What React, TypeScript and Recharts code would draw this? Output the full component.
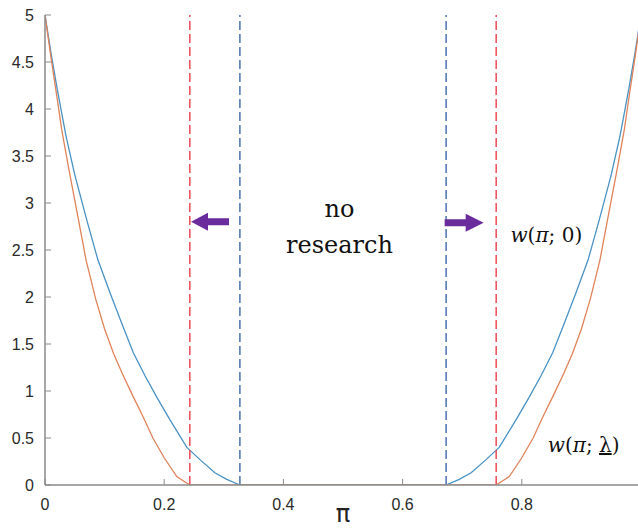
import React from 'react';
import {
  LineChart, Line, XAxis, YAxis, ReferenceLine, ReferenceDot,
} from 'recharts';

// w(pi; 0) - blue curve
const blueX = [0, 0.01, 0.02, 0.035, 0.05, 0.07, 0.089, 0.11, 0.13, 0.148, 0.168, 0.188, 0.21, 0.238, 0.26, 0.285, 0.305, 0.327,
  0.673, 0.695, 0.715, 0.74, 0.762, 0.79, 0.812, 0.832, 0.852, 0.87, 0.89, 0.911, 0.93, 0.95, 0.965, 0.98, 0.99, 1];
const blueY = [5, 4.6, 4.23, 3.72, 3.3, 2.82, 2.39, 2.03, 1.7, 1.41, 1.16, 0.93, 0.69, 0.4, 0.27, 0.13, 0.06, 0,
  0, 0.06, 0.13, 0.27, 0.4, 0.69, 0.93, 1.16, 1.41, 1.7, 2.03, 2.39, 2.82, 3.3, 3.72, 4.23, 4.6, 5];

// w(pi; lambda) - orange curve
const orangeX = [0, 0.01, 0.02, 0.028, 0.04, 0.055, 0.069, 0.085, 0.1, 0.115, 0.13, 0.148, 0.165, 0.181, 0.2, 0.221, 0.243,
  0.757, 0.779, 0.8, 0.819, 0.835, 0.852, 0.87, 0.885, 0.9, 0.915, 0.931, 0.945, 0.96, 0.972, 0.98, 0.99, 1];
const orangeY = [5, 4.55, 4.13, 3.78, 3.36, 2.86, 2.39, 1.98, 1.66, 1.4, 1.18, 0.94, 0.72, 0.5, 0.29, 0.09, 0,
  0, 0.09, 0.29, 0.5, 0.72, 0.94, 1.18, 1.4, 1.66, 1.98, 2.39, 2.86, 3.36, 3.78, 4.13, 4.55, 5];

const redCuts = [0.243, 0.757];
const blueCuts = [0.327, 0.673];

const xTicks = [0, 0.2, 0.4, 0.6, 0.8];
const yTicks = [0, 0.5, 1, 1.5, 2, 2.5, 3, 3.5, 4, 4.5, 5];

const blueData = blueX.map((x, i) => ({ x, y: blueY[i] }));
const orangeData = orangeX.map((x, i) => ({ x, y: orangeY[i] }));

const AXIS = '#8a8a8a';
const PURPLE = '#6a2c9c';
const SERIF = '"DejaVu Serif", "Liberation Serif", serif';

const LeftArrow = ({ cx, cy }: any) => (
  <path
    d={`M${cx},${cy} L${cx + 17},${cy - 9} L${cx + 17},${cy - 3.5} L${cx + 38},${cy - 3.5} L${cx + 38},${cy + 3.5} L${cx + 17},${cy + 3.5} L${cx + 17},${cy + 9} Z`}
    fill={PURPLE}
  />
);

const RightArrow = ({ cx, cy }: any) => (
  <path
    d={`M${cx},${cy} L${cx - 18},${cy - 9} L${cx - 18},${cy - 3.5} L${cx - 39},${cy - 3.5} L${cx - 39},${cy + 3.5} L${cx - 18},${cy + 3.5} L${cx - 18},${cy + 9} Z`}
    fill={PURPLE}
  />
);

const NoResearch = ({ cx, cy }: any) => (
  <text x={cx} y={cy} textAnchor="middle" fontFamily={SERIF} fontSize={24} fill="#111">
    <tspan x={cx} dy={0}>no</tspan>
    <tspan x={cx} dy={36}>research</tspan>
  </text>
);

const WZero = ({ cx, cy }: any) => (
  <text x={cx} y={cy} fontFamily={SERIF} fontSize={20} fill="#111">
    <tspan fontStyle="italic">w</tspan>(<tspan fontStyle="italic">π</tspan>; 0)
  </text>
);

const WLambda = ({ cx, cy }: any) => (
  <text x={cx} y={cy} fontFamily={SERIF} fontSize={20} fill="#111">
    <tspan fontStyle="italic">w</tspan>(<tspan fontStyle="italic">π</tspan>; <tspan textDecoration="underline">λ</tspan>)
  </text>
);

export default function App() {
  return (
    <div style={{ width: 638, height: 531, overflow: 'hidden', background: '#fff' }}>
      <style>{'body{margin:0;overflow:hidden}'}</style>
      <LineChart width={660} height={531} margin={{ top: 15, right: 19, bottom: 0, left: 0 }}>
        <XAxis
          dataKey="x"
          type="number"
          domain={[0, 1]}
          allowDataOverflow
          ticks={xTicks}
          height={46}
          tickSize={-6}
          tickMargin={20}
          tick={{ fill: '#2a2a2a', fontSize: 16, fontFamily: '"Liberation Sans", Arial, sans-serif' }}
          axisLine={{ stroke: AXIS, strokeWidth: 1.5 }}
          tickLine={{ stroke: AXIS }}
          label={{ value: 'π', position: 'insideBottom', offset: 9, fontSize: 24, fill: '#222', fontFamily: '"DejaVu Sans", sans-serif' }}
        />
        <XAxis
          xAxisId="top"
          orientation="top"
          type="number"
          domain={[0, 1]}
          allowDataOverflow
          ticks={xTicks}
          height={0}
          tick={false}
          tickSize={-6}
          axisLine={{ stroke: AXIS, strokeWidth: 1.5 }}
          tickLine={{ stroke: AXIS }}
        />
        <YAxis
          type="number"
          domain={[0, 5]}
          allowDataOverflow
          ticks={yTicks}
          width={45}
          tickSize={-6}
          tickMargin={17}
          tick={{ fill: '#2a2a2a', fontSize: 16, fontFamily: '"Liberation Sans", Arial, sans-serif' }}
          axisLine={{ stroke: AXIS, strokeWidth: 1.5 }}
          tickLine={{ stroke: AXIS }}
        />
        <YAxis
          yAxisId="right"
          orientation="right"
          type="number"
          domain={[0, 5]}
          allowDataOverflow
          ticks={yTicks}
          width={0}
          tick={false}
          tickSize={-6}
          axisLine={{ stroke: AXIS, strokeWidth: 1.5 }}
          tickLine={{ stroke: AXIS }}
        />
        <Line data={blueData} dataKey="y" type="linear" stroke="#4a92c4" strokeWidth={1.3} dot={false} isAnimationActive={false} />
        <Line data={orangeData} dataKey="y" type="linear" stroke="#e0835a" strokeWidth={1.3} dot={false} isAnimationActive={false} />
        {redCuts.map((c) => (
          <ReferenceLine key={'r' + c} x={c} stroke="#ec4a55" strokeWidth={1.5} strokeDasharray="9 4" />
        ))}
        {blueCuts.map((c) => (
          <ReferenceLine key={'b' + c} x={c} stroke="#4a72b0" strokeWidth={1.5} strokeDasharray="9 4" />
        ))}
        <ReferenceDot x={0.245} y={2.8} r={0} shape={<LeftArrow />} />
        <ReferenceDot x={0.736} y={2.79} r={0} shape={<RightArrow />} />
        <ReferenceDot x={0.494} y={2.851} r={0} shape={<NoResearch />} />
        <ReferenceDot x={0.781} y={2.585} r={0} shape={<WZero />} />
        <ReferenceDot x={0.8436} y={0.351} r={0} shape={<WLambda />} />
      </LineChart>
    </div>
  );
}
